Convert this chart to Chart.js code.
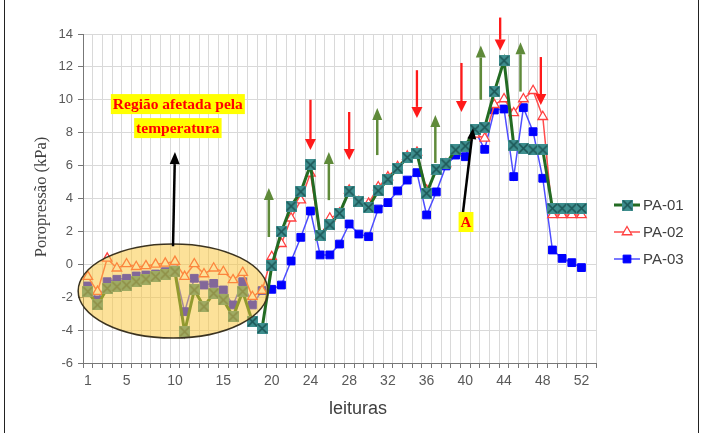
<!DOCTYPE html>
<html>
<head>
<meta charset="utf-8">
<script src="https://cdn.jsdelivr.net/npm/chart.js@4.4.0/dist/chart.umd.min.js"></script>
<style>
    html, body { margin: 0; padding: 0; background: #fff; }
    #wrap { position: relative; width: 703px; height: 433px; }
    #wrap:before, #wrap:after { content: ''; position: absolute; top: 0; bottom: 0; width: 1px; background: #222; }
    #wrap:before { left: 4px; }
    #wrap:after { left: 698px; }
</style>
</head>
<body>
<div id="wrap"><canvas id="grafico" width="703" height="433"></canvas></div>
<script>
/* Poropressão x leituras - PA-01 / PA-02 / PA-03 */

// categorias do eixo x (53 posições, dados em 52)
const leituras = ['1','2','3','4','5','6','7','8','9','10','11','12','13','14','15','16','17','18','19','20',
    '21','22','23','24','25','26','27','28','29','30','31','32','33','34','35','36','37','38','39','40',
    '41','42','43','44','45','46','47','48','49','50','51','52','53'];
const rotulosX = [1, 5, 10, 15, 20, 24, 28, 32, 36, 40, 44, 48, 52];

const pa01 = [-1.66, -2.47, -1.46, -1.36, -1.26, -1.06, -0.9, -0.75, -0.6, -0.45,
    -4.1, -1.56, -2.58, -1.76, -2.17, -3.18, -1.66, -3.49, -3.9, -0.1,
    1.98, 3.54, 4.41, 6.04, 1.78, 2.39, 3.1, 4.45, 3.8, 3.46,
    4.47, 5.17, 5.83, 6.5, 6.75, 4.32, 5.78, 6.1, 6.95, 7.19,
    8.2, 8.33, 10.5, 12.38, 7.25, 7.05, 6.95, 6.95, 3.4, 3.4, 3.4, 3.4];
const pa02 = [-0.75, -1.66, 0.36, -0.24, 0.02, -0.15, -0.1, 0.0, 0.06, 0.16,
    -0.75, 0.02, -0.59, -0.24, -0.45, -0.95, -0.51, -1.97, -1.6, 0.46,
    1.25, 2.8, 3.9, 5.53, 1.68, 2.8, 3.1, 4.5, 3.8, 3.7,
    4.7, 5.3, 5.93, 6.56, 6.8, 4.5, 5.63, 6.1, 6.85, 7.05,
    7.9, 7.66, 9.7, 10.05, 9.2, 10.05, 10.55, 8.97, 3.0, 3.0, 3.0, 3.0];
const pa03 = [-1.32, -2.17, -1.06, -0.91, -0.85, -0.71, -0.65, -0.59, -0.45, -0.35,
    -2.88, -0.85, -1.26, -1.16, -1.56, -2.47, -1.06, -2.47, -1.6, -1.52,
    -1.26, 0.2, 1.64, 3.24, 0.57, 0.57, 1.23, 2.45, 1.84, 1.68,
    3.36, 3.75, 4.46, 5.12, 5.57, 3.0, 4.4, 5.98, 6.64, 6.54,
    8.12, 6.99, 9.38, 9.44, 5.33, 9.52, 8.06, 5.23, 0.87, 0.36, 0.1, -0.2];

// anotações (em coordenadas de leitura / kPa)
const setasVermelhas = [
    { x: 24, de: 10.0, ate: 6.95 },
    { x: 28, de: 9.26, ate: 6.34 },
    { x: 35, de: 11.8, ate: 8.9 },
    { x: 39.6, de: 12.24, ate: 9.26 },
    { x: 43.6, de: 15.0, ate: 13.0 },
    { x: 47.8, de: 12.6, ate: 9.68 }
];
const setasVerdes = [
    { x: 19.7, de: 1.66, ate: 4.64 },
    { x: 25.9, de: 3.9, ate: 6.83 },
    { x: 30.9, de: 6.64, ate: 9.5 },
    { x: 36.9, de: 6.16, ate: 9.08 },
    { x: 41.6, de: 10.0, ate: 13.3 },
    { x: 45.7, de: 10.5, ate: 13.5 }
];
const elipse = { x: 9.8, y: -1.62, rx: 9.8, ry: 2.86 };

// marcador do PA-01 (quadrado com X)
function marcadorX() {
    const cv = document.createElement('canvas');
    cv.width = 11; cv.height = 11;
    const g = cv.getContext('2d');
    g.fillStyle = '#3f8f8f';
    g.fillRect(0, 0, 11, 11);
    g.strokeStyle = '#1d5656';
    g.lineWidth = 1.7;
    g.beginPath();
    g.moveTo(1, 1); g.lineTo(10, 10);
    g.moveTo(10, 1); g.lineTo(1, 10);
    g.stroke();
    return cv;
}
const imgPA01 = marcadorX();

function seta(c, x1, y1, x2, y2, cor, larg, cabL, cabC) {
    const ang = Math.atan2(y2 - y1, x2 - x1);
    const bx = x2 - Math.cos(ang) * cabC, by = y2 - Math.sin(ang) * cabC;
    c.strokeStyle = cor;
    c.fillStyle = cor;
    c.lineWidth = larg;
    c.beginPath();
    c.moveTo(x1, y1);
    c.lineTo(bx, by);
    c.stroke();
    c.beginPath();
    c.moveTo(x2, y2);
    c.lineTo(bx + Math.sin(ang) * cabL / 2, by - Math.cos(ang) * cabL / 2);
    c.lineTo(bx - Math.sin(ang) * cabL / 2, by + Math.cos(ang) * cabL / 2);
    c.closePath();
    c.fill();
}

function textoMarcado(c, txt, x, y, fonte) {
    c.font = fonte;
    const w = c.measureText(txt).width;
    c.fillStyle = '#ffff00';
    c.fillRect(x - w / 2 - 2, y - 10, w + 4, 20);
    c.fillStyle = '#ff0000';
    c.textAlign = 'center';
    c.textBaseline = 'middle';
    c.fillText(txt, x, y + 1);
}

const extras = {
    id: 'extras',
    beforeDraw(chart) {
        const c = chart.ctx;
        c.save();
        c.fillStyle = '#fff';
        c.fillRect(0, 0, chart.width, chart.height);
        c.restore();
    },
    afterDraw(chart) {
        const c = chart.ctx;
        const sx = chart.scales.x, sy = chart.scales.y;
        const px = i => sx.getPixelForValue(i - 1);
        const py = v => sy.getPixelForValue(v);
        c.save();

        // região afetada (elipse)
        const cx = px(elipse.x), cy = py(elipse.y);
        const rx = px(elipse.x + elipse.rx) - cx;
        const ry = py(elipse.y - elipse.ry) - cy;
        c.beginPath();
        c.ellipse(cx, cy, rx, ry, 0, 0, Math.PI * 2);
        c.fillStyle = 'rgba(250,198,60,0.52)';
        c.fill();
        c.lineWidth = 1.5;
        c.strokeStyle = '#3b3320';
        c.stroke();

        // setas
        setasVermelhas.forEach(s => seta(c, px(s.x), py(s.de), px(s.x), py(s.ate), '#ff1a1a', 2.3, 11, 11));
        setasVerdes.forEach(s => seta(c, px(s.x), py(s.de), px(s.x), py(s.ate), '#5f8a3a', 2.5, 10, 12));
        seta(c, px(9.8), py(1.1), px(10.0), py(6.82), '#000', 2.5, 10, 12);
        seta(c, px(39.76), py(3.17), px(40.8), py(8.28), '#000', 2.5, 9, 11);

        // textos
        textoMarcado(c, 'Região afetada pela', px(10.3), py(9.74), 'bold 15.5px "Liberation Serif"');
        textoMarcado(c, 'temperatura', px(10.3), py(8.28), 'bold 15.5px "Liberation Serif"');
        textoMarcado(c, 'A', px(40.07), py(2.57), 'bold 15px "Liberation Serif"');

        // títulos dos eixos
        c.fillStyle = '#404040';
        c.textAlign = 'center';
        c.textBaseline = 'middle';
        c.font = '18px "Liberation Sans"';
        c.fillText('leituras', 358, 409);
        c.translate(42, 197);
        c.rotate(-Math.PI / 2);
        c.font = '16.5px "Liberation Serif"';
        c.fillText('Poropressão (kPa)', 0, 0);
        c.restore();

        // legenda
        c.save();
        const itens = [
            { nome: 'PA-01', linha: '#236b23', larg: 3, y: 205 },
            { nome: 'PA-02', linha: '#ff4d4d', larg: 1.5, y: 232 },
            { nome: 'PA-03', linha: '#4d4dff', larg: 1.5, y: 259 }
        ];
        itens.forEach((it, k) => {
            c.strokeStyle = it.linha;
            c.lineWidth = it.larg;
            c.beginPath();
            c.moveTo(614, it.y);
            c.lineTo(640, it.y);
            c.stroke();
            if (k === 0) {
                c.drawImage(imgPA01, 622, it.y - 5.5);
            } else if (k === 1) {
                c.fillStyle = '#fff';
                c.strokeStyle = '#ff4040';
                c.lineWidth = 1.3;
                Chart.helpers.drawPoint(c, { pointStyle: 'triangle', radius: 5.5, borderWidth: 1.3 }, 627, it.y);
            } else {
                c.fillStyle = '#0000ff';
                c.strokeStyle = '#0000ff';
                c.lineWidth = 1;
                Chart.helpers.drawPoint(c, { pointStyle: 'rect', radius: 5.5, borderWidth: 1 }, 627, it.y);
            }
            c.fillStyle = '#404040';
            c.font = '15px "Liberation Sans"';
            c.textAlign = 'left';
            c.textBaseline = 'middle';
            c.fillText(it.nome, 643, it.y + 1);
        });
        c.restore();
    }
};

new Chart(document.getElementById('grafico'), {
    type: 'line',
    data: {
        labels: leituras,
        datasets: [
            {
                label: 'PA-01',
                data: pa01,
                borderColor: '#236b23',
                borderWidth: 3,
                pointStyle: imgPA01,
                pointRadius: 5,
                tension: 0
            },
            {
                label: 'PA-02',
                data: pa02,
                borderColor: '#ff4d4d',
                borderWidth: 1.5,
                pointStyle: 'triangle',
                pointRadius: 5.5,
                pointBackgroundColor: '#fff',
                pointBorderColor: '#ff4040',
                pointBorderWidth: 1.3,
                tension: 0
            },
            {
                label: 'PA-03',
                data: pa03,
                borderColor: '#4d4dff',
                borderWidth: 1.5,
                pointStyle: 'rect',
                pointRadius: 5.5,
                pointBackgroundColor: '#0000ff',
                pointBorderColor: '#0000ff',
                pointBorderWidth: 1,
                tension: 0
            }
        ]
    },
    options: {
        responsive: false,
        animation: false,
        layout: { padding: { left: 0, right: 107, top: 34, bottom: 45 } },
        plugins: {
            legend: { display: false },
            tooltip: { enabled: false }
        },
        scales: {
            x: {
                type: 'category',
                offset: true,
                grid: { offset: true, color: '#d9d9d9', tickColor: '#777', tickLength: 5 },
                border: { color: '#777' },
                ticks: {
                    autoSkip: false,
                    maxRotation: 0,
                    padding: 5,
                    color: '#595959',
                    font: { family: 'Liberation Sans', size: 14 },
                    callback: function(v) {
                        const lab = Number(this.getLabelForValue(v));
                        return rotulosX.includes(lab) ? String(lab) : '';
                    }
                },
                afterFit: s => { s.height = 25; }
            },
            y: {
                min: -6,
                max: 14,
                ticks: {
                    stepSize: 2,
                    padding: 5,
                    color: '#595959',
                    font: { family: 'Liberation Sans', size: 13 }
                },
                grid: { color: '#d9d9d9', tickColor: '#777', tickLength: 5 },
                border: { color: '#777' },
                afterFit: s => { s.width = 83; }
            }
        }
    },
    plugins: [extras]
});
</script>
</body>
</html>
